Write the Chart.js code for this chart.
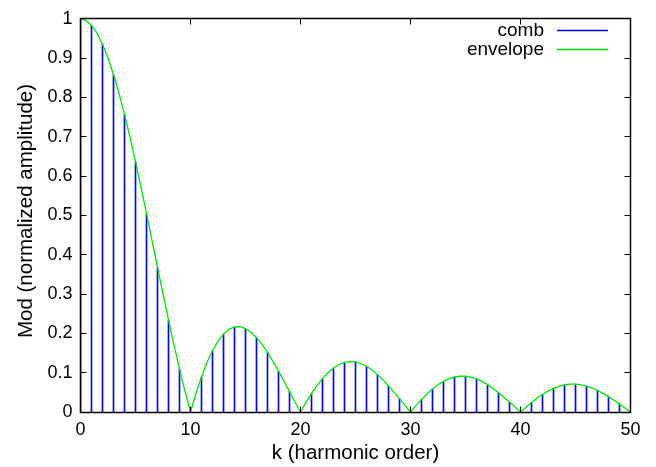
<!DOCTYPE html>
<html>
<head>
<meta charset="utf-8">
<script src="https://cdn.jsdelivr.net/npm/chart.js@4/dist/chart.umd.min.js"></script>
<style>
  html, body { margin: 0; padding: 0; background: #fff; }
  #wrap { width: 656px; height: 467px; position: relative; }
</style>
</head>
<body>
<div id="wrap"><canvas id="chart" width="656" height="467"></canvas></div>
<script>
// comb amplitudes at k = 0..50
const COMB = [
  1.0, 0.9836, 0.9355, 0.8584, 0.7568, 0.6366, 0.5046, 0.3679, 0.2339, 0.1093,
  0.0, 0.0894, 0.1559, 0.1981, 0.2162, 0.2122, 0.1892, 0.1515, 0.1039, 0.0518,
  0.0, 0.0468, 0.0850, 0.1120, 0.1261, 0.1273, 0.1164, 0.0954, 0.0668, 0.0339,
  0.0, 0.0317, 0.0585, 0.0780, 0.0890, 0.0909, 0.0841, 0.0696, 0.0492, 0.0252,
  0.0, 0.0240, 0.0445, 0.0599, 0.0688, 0.0707, 0.0658, 0.0548, 0.0390, 0.0201,
  0.0,
];

// envelope sampled every half harmonic, k = 0, 0.5, 1, ... 50
const ENVELOPE = [
  1.0, 0.9959, 0.9836, 0.9634, 0.9355, 0.9003, 0.8584, 0.8103, 0.7568, 0.6986,
  0.6366, 0.5716, 0.5046, 0.4363, 0.3679, 0.3001, 0.2339, 0.1700, 0.1093, 0.0524,
  0.0, 0.0474, 0.0894, 0.1257, 0.1559, 0.1801, 0.1981, 0.2101, 0.2162, 0.2168,
  0.2122, 0.2028, 0.1892, 0.1719, 0.1515, 0.1286, 0.1039, 0.0781, 0.0518, 0.0255,
  0.0, 0.0243, 0.0468, 0.0672, 0.0850, 0.1000, 0.1120, 0.1207, 0.1261, 0.1283,
  0.1273, 0.1233, 0.1164, 0.1070, 0.0954, 0.0818, 0.0668, 0.0507, 0.0339, 0.0169,
  0.0, 0.0163, 0.0317, 0.0459, 0.0585, 0.0693, 0.0780, 0.0847, 0.0890, 0.0911,
  0.0909, 0.0886, 0.0841, 0.0777, 0.0696, 0.0600, 0.0492, 0.0375, 0.0252, 0.0126,
  0.0, 0.0123, 0.0240, 0.0348, 0.0445, 0.0530, 0.0599, 0.0652, 0.0688, 0.0707,
  0.0707, 0.0691, 0.0658, 0.0610, 0.0548, 0.0474, 0.0390, 0.0298, 0.0201, 0.0101,
  0.0,
];

const X_TICKS = [0, 10, 20, 30, 40, 50];
const Y_TICKS = [0, 0.1, 0.2, 0.3, 0.4, 0.5, 0.6, 0.7, 0.8, 0.9, 1];
const SERIES_NAMES = ["comb", "envelope"];
const X_TITLE = "k (harmonic order)";
const Y_TITLE = "Mod (normalized amplitude)";

const BLUE = "rgb(0, 0, 255)";
const GREEN = "rgb(0, 230, 0)";
const FAMILY = "'Liberation Sans', Arial, Helvetica, sans-serif";

const combPoints = COMB.map((v, i) => ({ x: i, y: v }));
const envPoints = ENVELOPE.map((v, i) => ({ x: i / 2, y: v }));

// gnuplot-like frame: box, inward ticks on all sides, axis titles, key
const framePlugin = {
  id: "frame",
  afterDraw(chart) {
    const { ctx, chartArea: a, scales } = chart;
    const xs = scales.x, ys = scales.y;
    const left = Math.floor(a.left) + 0.5;
    const right = Math.floor(a.right) + 0.5;
    const top = Math.floor(a.top) + 0.5;
    const bottom = Math.floor(a.bottom) + 0.5;
    ctx.save();
    ctx.strokeStyle = "#000";
    ctx.lineWidth = 1;
    ctx.beginPath();
    for (const t of X_TICKS) {
      const px = Math.floor(xs.getPixelForValue(t)) + 0.5;
      ctx.moveTo(px, bottom); ctx.lineTo(px, bottom - 6);
      ctx.moveTo(px, top); ctx.lineTo(px, top + 6);
    }
    for (const t of Y_TICKS) {
      const py = Math.floor(ys.getPixelForValue(t)) + 0.5;
      ctx.moveTo(left, py); ctx.lineTo(left + 6, py);
      ctx.moveTo(right, py); ctx.lineTo(right - 6, py);
    }
    ctx.stroke();
    ctx.lineWidth = 1.5;
    ctx.strokeRect(left, top, right - left, bottom - top);

    ctx.fillStyle = "#000";
    ctx.font = "20.5px " + FAMILY;
    ctx.textAlign = "center";
    ctx.textBaseline = "middle";
    ctx.fillText(X_TITLE, (a.left + a.right) / 2, 453);
    ctx.save();
    ctx.translate(26, 211);
    ctx.rotate(-Math.PI / 2);
    ctx.fillText(Y_TITLE, 0, 0);
    ctx.restore();

    // key
    const colors = [BLUE, GREEN];
    ctx.font = "19px " + FAMILY;
    ctx.textAlign = "right";
    ctx.lineWidth = 1.3;
    SERIES_NAMES.forEach((name, i) => {
      const y = 31 + i * 19;
      ctx.fillStyle = "#000";
      ctx.fillText(name, 544, y);
      ctx.strokeStyle = colors[i];
      ctx.beginPath();
      ctx.moveTo(557, y - 0.5);
      ctx.lineTo(608, y - 0.5);
      ctx.stroke();
    });
    ctx.restore();
  },
};

const tickFont = { family: FAMILY, size: 18 };

new Chart(document.getElementById("chart"), {
  data: {
    datasets: [
      {
        type: "line",
        label: SERIES_NAMES[1],
        data: envPoints,
        borderColor: GREEN,
        borderWidth: 1.3,
        pointRadius: 0,
        tension: 0,
        fill: false,
        order: 0,
      },
      {
        type: "bar",
        label: SERIES_NAMES[0],
        data: combPoints,
        backgroundColor: BLUE,
        borderWidth: 0,
        barThickness: 1,
        order: 1,
      },
    ],
  },
  options: {
    responsive: false,
    animation: false,
    layout: { padding: { top: 15, right: 25.5, left: 0.5, bottom: 0 } },
    plugins: { legend: { display: false }, tooltip: { enabled: false } },
    scales: {
      x: {
        type: "linear",
        min: 0,
        max: 50,
        offset: false,
        afterBuildTicks: (s) => { s.ticks = X_TICKS.map((v) => ({ value: v })); },
        afterFit: (s) => { s.height = 55; },
        grid: { display: false, drawTicks: false },
        border: { display: false },
        ticks: { color: "#000", font: tickFont, padding: 7, maxRotation: 0, callback: (v) => String(v) },
      },
      y: {
        min: 0,
        max: 1,
        afterBuildTicks: (s) => { s.ticks = Y_TICKS.map((v) => ({ value: v })); },
        afterFit: (s) => { s.width = 80; },
        grid: { display: false, drawTicks: false },
        border: { display: false },
        ticks: { color: "#000", font: tickFont, padding: 8, callback: (v) => String(v) },
      },
    },
  },
  plugins: [framePlugin],
});
</script>
</body>
</html>
